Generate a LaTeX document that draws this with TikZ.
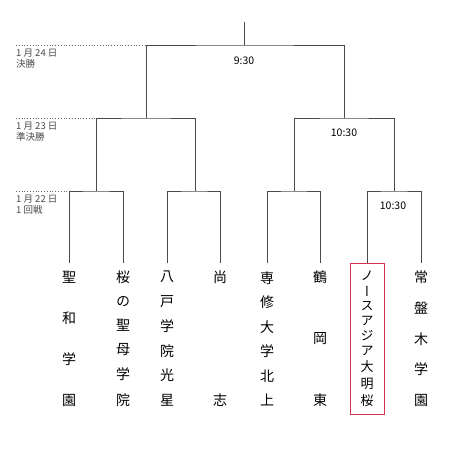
\documentclass[tikz,border=0pt]{standalone}
\usepackage{fontspec}
\setmainfont{Noto Sans CJK JP}
\newfontfamily\tatefont[RawFeature=+vert]{Noto Sans CJK JP}
\usetikzlibrary{calc,positioning}
\definecolor{linea}{HTML}{4A4A4A}
\definecolor{rojo}{HTML}{D6334D}
\definecolor{punto}{HTML}{6A6A6A}
\newcommand\ch[1]{\hbox to 16pt{\hss#1\hss}}
\newcommand\tate[1]{\vbox to 134pt{\offinterlineskip#1}}
\tikzset{
  bracket/.style={linea,line width=1pt},
  guide/.style={punto,dotted,line width=0.8pt},
  team/.style={anchor=north,inner sep=0pt,minimum width=34pt,minimum height=151pt,
               font=\tatefont\fontsize{14}{14}\selectfont},
  datelbl/.style={anchor=north west,inner sep=0pt,align=left,
                  font=\fontsize{9.5}{10.5}\selectfont,linea},
  timelbl/.style={inner sep=0pt,font=\fontsize{10.5}{10.5}\selectfont}
}

\begin{document}
\begin{tikzpicture}[x=1pt,y=-1pt,line cap=butt]
  \useasboundingbox (0,0) rectangle (462,456);
  % teams
  \foreach \i/\x/\n in {1/69/{\ch{聖}\vfill\ch{和}\vfill\ch{学}\vfill\ch{園}},
      2/123/{\ch{桜}\vfill\ch{の}\vfill\ch{聖}\vfill\ch{母}\vfill\ch{学}\vfill\ch{院}},
      3/167/{\ch{八}\vfill\ch{戸}\vfill\ch{学}\vfill\ch{院}\vfill\ch{光}\vfill\ch{星}},
      4/220/{\ch{尚}\vfill\ch{志}},
      5/267/{\ch{専}\vfill\ch{修}\vfill\ch{大}\vfill\ch{学}\vfill\ch{北}\vfill\ch{上}},
      6/320/{\ch{鶴}\vfill\ch{岡}\vfill\ch{東}},
      8/421/{\ch{常}\vfill\ch{盤}\vfill\ch{木}\vfill\ch{学}\vfill\ch{園}}}{
    \node[team] (t\i) at (\x,263) {\tate{\n}};
  }
  \node[team,draw=rojo,line width=0.9pt,font=\tatefont\fontsize{13}{13}\selectfont] (t7) at (367,263)
    {\tate{\ch{ノ}\vfill\ch{ー}\vfill\ch{ス}\vfill\ch{ア}\vfill\ch{ジ}\vfill\ch{ア}\vfill\ch{大}\vfill\ch{明}\vfill\ch{桜}}};

  % junctions
  \coordinate (q1) at (96,191);
  \coordinate (q2) at (195,191);
  \coordinate (q3) at (294,191);
  \coordinate (q4) at (394,191);
  \coordinate (s1) at (146,118);
  \coordinate (s2) at (344,118);
  \coordinate (f) at (244,45);
  \coordinate (top) at (244,22);

  % bracket
  \draw[bracket] (t1.north) |- (q1) -| (t2.north);
  \draw[bracket] (t3.north) |- (q2) -| (t4.north);
  \draw[bracket] (t5.north) |- (q3) -| (t6.north);
  \draw[bracket] (t7.north) |- (q4) -| (t8.north);
  \draw[bracket] (q1) |- (s1) -| (q2);
  \draw[bracket] (q3) |- (s2) -| (q4);
  \draw[bracket] (s1) |- (f) -| (s2);
  \draw[bracket] (f) -- (top);

  % round guides
  \coordinate (g1) at (16,45);
  \coordinate (g2) at (16,118);
  \coordinate (g3) at (16,191);
  \draw[guide] (g1) -- (s1 |- g1);
  \draw[guide] (g2) -- (q1 |- g2);
  \draw[guide] (g3) -- (t1.north |- g3);
  \node[datelbl] (d1) at (16,49) {1 月 24 日\\決勝};
  \node[datelbl] (d2) at (16,122) {1 月 23 日\\準決勝};
  \node[datelbl] (d3) at (16,195) {1 月 22 日\\1 回戦};

  % times
  \node[timelbl] (m1) at (244,61) {9:30};
  \node[timelbl] (m2) at (344,133) {10:30};
  \node[timelbl] (m3) at (393,206) {10:30};
\end{tikzpicture}
\end{document}
